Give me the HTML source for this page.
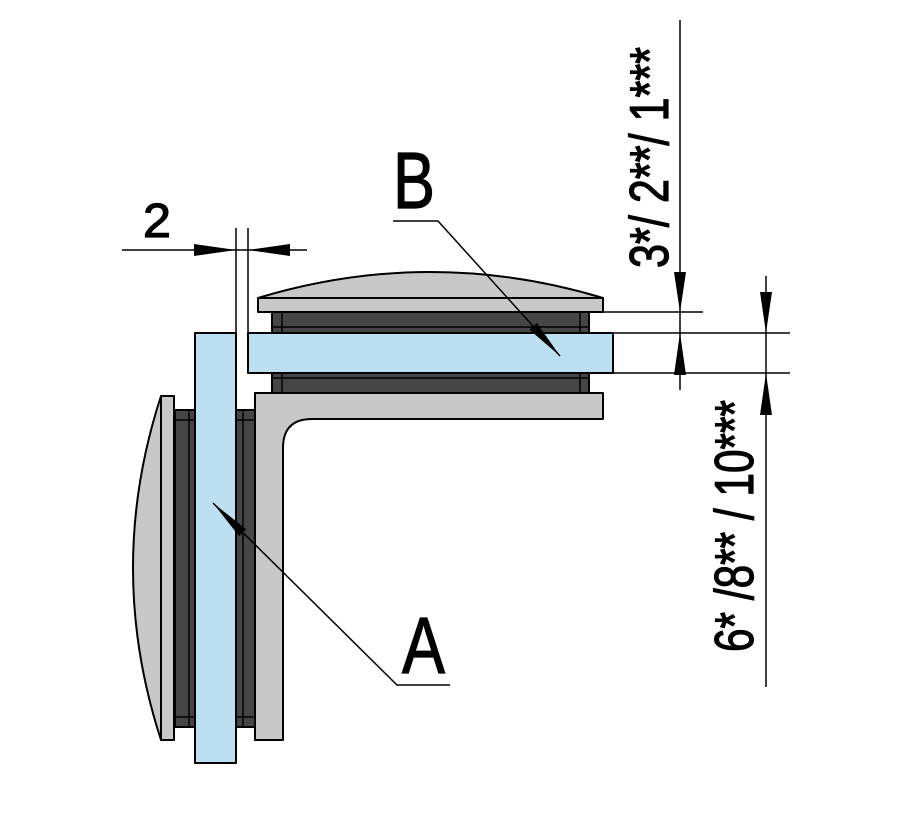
<!DOCTYPE html>
<html><head><meta charset="utf-8"><style>
html,body{margin:0;padding:0;background:#fff;}
svg{display:block;}
text{font-family:"Liberation Sans",sans-serif;fill:#000;stroke:#000;stroke-width:1.2;}
</style></head><body>
<svg width="909" height="820" viewBox="0 0 909 820" xmlns="http://www.w3.org/2000/svg">
<g stroke="#000" stroke-width="2" stroke-linejoin="round">
<path d="M258,298 Q430,246 603,298 Z" fill="#c8c8c8"/>
<rect x="258" y="298" width="345" height="14" fill="#c8c8c8"/>
<rect x="272" y="312" width="317" height="21" fill="#454545"/>
<line x1="272" y1="327" x2="589" y2="327" stroke-width="1.5"/>
<line x1="282" y1="312" x2="282" y2="333" stroke-width="1.5"/>
<line x1="580" y1="312" x2="580" y2="333" stroke-width="1.5"/>
<rect x="248" y="333" width="365" height="40" fill="#bcdff2"/>
<rect x="272" y="373" width="317" height="20" fill="#454545"/>
<line x1="272" y1="378" x2="589" y2="378" stroke-width="1.5"/>
<line x1="282" y1="373" x2="282" y2="393" stroke-width="1.5"/>
<line x1="580" y1="373" x2="580" y2="393" stroke-width="1.5"/>
<path d="M255,393 H603 V419 H312 Q283,419 283,448 V740 H255 Z" fill="#c8c8c8"/>
<rect x="175" y="410" width="20" height="317" fill="#454545"/>
<line x1="189" y1="410" x2="189" y2="727" stroke-width="1.5"/>
<line x1="175" y1="420" x2="195" y2="420" stroke-width="1.5"/>
<line x1="175" y1="717" x2="195" y2="717" stroke-width="1.5"/>
<rect x="236" y="410" width="19" height="317" fill="#454545"/>
<line x1="243" y1="410" x2="243" y2="727" stroke-width="1.5"/>
<line x1="236" y1="420" x2="255" y2="420" stroke-width="1.5"/>
<line x1="236" y1="717" x2="255" y2="717" stroke-width="1.5"/>
<path d="M161,396 Q105,568 161,740 Z" fill="#c8c8c8"/>
<rect x="161" y="396" width="13" height="344" fill="#c8c8c8"/>
<rect x="195" y="333" width="41" height="430" fill="#bcdff2"/>
</g>
<g stroke="#000" stroke-width="1.5" fill="none">
<line x1="122" y1="250" x2="307" y2="250"/>
<line x1="236" y1="228" x2="236" y2="333"/>
<line x1="248" y1="228" x2="248" y2="333"/>
<line x1="680" y1="20" x2="680" y2="390"/>
<line x1="603" y1="312" x2="703" y2="312"/>
<line x1="613" y1="333" x2="790" y2="333"/>
<line x1="613" y1="373" x2="790" y2="373"/>
<line x1="766" y1="276" x2="766" y2="687"/>
<polyline points="393,221 438,221 560,356"/>
<polyline points="450,685 397,685 213,503"/>
</g>
<g fill="#000">
<polygon points="236,250 194,244 194,256"/>
<polygon points="248,250 290,244 290,256"/>
<polygon points="680,312 674,272 686,272"/>
<polygon points="680,333 674,375 686,375"/>
<polygon points="766,333 760,292 772,292"/>
<polygon points="766,373 760,415 772,415"/>
<polygon points="560,356 536.9,322.9 529.5,329.7"/>
<polygon points="213,503 246.2,529.2 239.2,536.2"/>
</g>
<text x="143" y="237" font-size="48" textLength="28" lengthAdjust="spacingAndGlyphs">2</text>
<text x="393" y="208" font-size="80" textLength="42" lengthAdjust="spacingAndGlyphs">B</text>
<text x="402" y="673" font-size="80" textLength="43" lengthAdjust="spacingAndGlyphs">A</text>
<text transform="translate(668,268) rotate(-90)" font-size="55" textLength="221" lengthAdjust="spacingAndGlyphs">3*/ 2**/ 1***</text>
<text transform="translate(753,652) rotate(-90)" font-size="55" textLength="252" lengthAdjust="spacingAndGlyphs">6* /8** / 10***</text>
</svg>
</body></html>
